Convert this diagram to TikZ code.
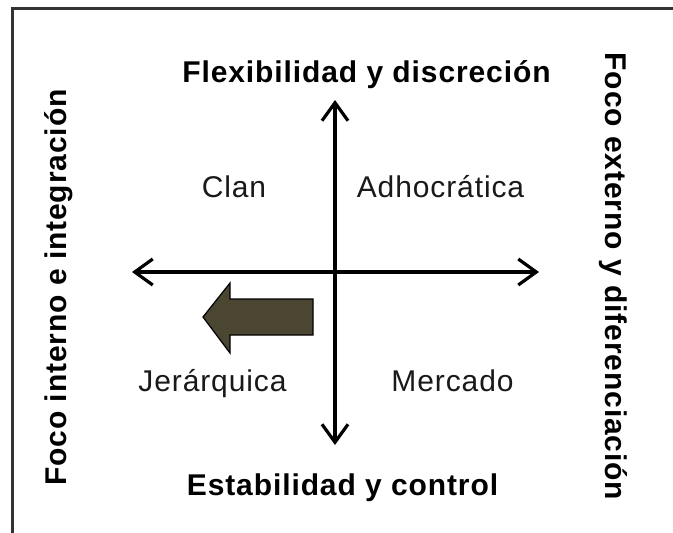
\documentclass[tikz,border=0pt]{standalone}
\usepackage{fontspec}
\setmainfont[LetterSpace=3]{Liberation Sans}
\usepackage{tikz}
\usetikzlibrary{arrows.meta, positioning}
\definecolor{olivebrown}{RGB}{75,70,50}

\begin{document}
\begin{tikzpicture}[x=1pt, y=-1pt,
        axisarrow/.style={line width=3.2pt, black, {Straight Barb[length=18pt, width=26pt]}-{Straight Barb[length=18pt, width=26pt]}},
        axislabel/.style={inner sep=0pt, anchor=base, font=\fontsize{30}{34}\selectfont\bfseries},
        quadrant/.style={inner sep=0pt, anchor=base, text=black!90, font=\fontsize{30}{34}\selectfont}]
        
        \useasboundingbox (0,0) rectangle (673,533);
        \clip (0,0) rectangle (673,533);
        
        % Frame (open to the right and bottom)
        \draw[line width=2.5pt, black!80] (12.5,545) |- (685,8.5);
        
        % Axis end points
        \coordinate (top) at (335,100);
        \coordinate (bottom) at (335,445);
        \coordinate (left) at (132,272);
        \coordinate (right) at (539,272);
        
        % Axes
        \draw[axisarrow] (bottom) -- (top);
        \draw[axisarrow] (left) -- (right);
        
        % Axis labels
        \node[axislabel] (flex) at (366.5,82) {Flexibilidad y discreción};
        \node[axislabel] (estab) at (342.5,495) {Estabilidad y control};
        \node[axislabel, rotate=90] (interno) at (66,287.5) {Foco interno e integración};
        \node[axislabel, rotate=-90] (externo) at (605,276.5) {Foco externo y diferenciación};
        
        % Quadrants
        \node[quadrant] (clan) at (234,197) {Clan};
        \node[quadrant] (adhoc) at (440.5,197) {Adhocrática};
        \node[quadrant] (jerar) at (212.5,391) {Jerárquica};
        \node[quadrant] (merc) at (452.5,391) {Mercado};
        
        % Block arrow
        \draw[line width=1.2pt, black, fill=olivebrown, line join=miter]
            (313,299) -- (230,299) -- (230,283) -- (203,317) -- (230,353) -- (230,335) -- (313,335) -- cycle;
        
\end{tikzpicture}
\end{document}
